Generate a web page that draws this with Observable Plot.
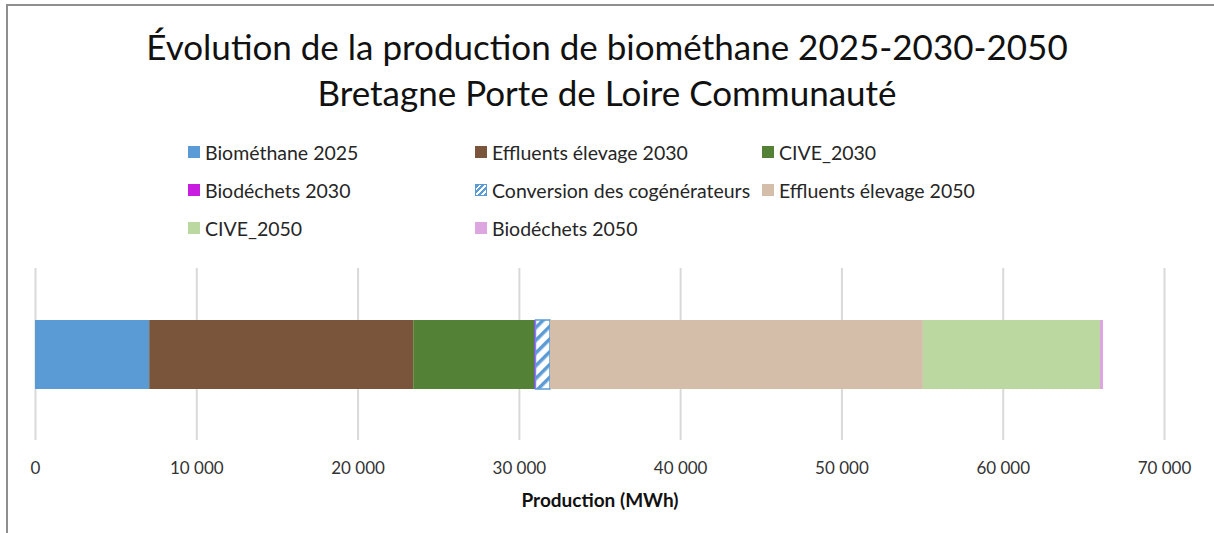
<!DOCTYPE html>
<html>
<head>
<meta charset="utf-8">
<script src="https://cdn.jsdelivr.net/npm/d3@7"></script>
<script src="https://cdn.jsdelivr.net/npm/@observablehq/plot@0.6"></script>
<style>
  html, body { margin: 0; padding: 0; background: #fff; }
  #wrap { position: relative; width: 1214px; height: 533px; overflow: hidden; font-family: Lato, "Open Sans", sans-serif; }
  #frame { position: absolute; left: 6px; top: 4px; width: 1400px; height: 800px; border-left: 2px solid #8f8f8f; border-top: 2px solid #8f8f8f; }
  #title { position: absolute; left: 0; top: 23px; width: 1214px; text-align: center; font-size: 35px; line-height: 46px; color: #111; }
  #legend { position: absolute; left: 188px; top: 141px; display: grid; grid-template-columns: 287px 287px 287px; grid-auto-rows: 38px; font-size: 19.5px; color: #262626; }
  .item { display: flex; align-items: center; height: 22px; white-space: nowrap; }
  .sw { width: 12px; height: 12px; margin-right: 5px; box-sizing: border-box; flex: none; }
  #chart { position: absolute; left: 0; top: 250px; }
  #chart g[aria-label="x-axis label"] text { font-weight: bold; font-size: 19px; fill: #111; }
</style>
</head>
<body>
<svg width="0" height="0" style="position:absolute">
  <defs>
    <pattern id="stripes" patternUnits="userSpaceOnUse" width="9" height="9" patternTransform="rotate(45)">
      <rect width="9" height="9" fill="#ffffff"></rect>
      <rect width="3.5" height="9" fill="#5b9bd5"></rect>
    </pattern>
  </defs>
</svg>
<div id="wrap">
  <div id="frame"></div>
  <div id="title"></div>
  <div id="legend"></div>
  <div id="chart"></div>
</div>
<script>
const titleLines = ["Évolution de la production de biométhane 2025-2030-2050", "Bretagne Porte de Loire Communauté"];
const series = ["Biométhane 2025", "Effluents élevage 2030", "CIVE_2030", "Biodéchets 2030", "Conversion des cogénérateurs", "Effluents élevage 2050", "CIVE_2050", "Biodéchets 2050"];
const values = [7080, 16370, 7490, 90, 900, 23120, 10980, 190];
const colors = ["#5b9bd5", "#7a553b", "#538135", "#c81ce0", "url(#stripes)", "#d4bda9", "#bbd8a1", "#dea6e0"];
const xTicks = [0, 10000, 20000, 30000, 40000, 50000, 60000, 70000];
const xLabel = "Production (MWh)";
const category = "Production";

document.getElementById("title").innerHTML = titleLines.map(t => `<div>${t}</div>`).join("");

const legend = document.getElementById("legend");
series.forEach((s, i) => {
  const it = document.createElement("div");
  it.className = "item";
  const sw = document.createElement("span");
  sw.className = "sw";
  if (colors[i].startsWith("url")) {
    sw.style.background = "repeating-linear-gradient(-45deg, #5b9bd5 0 2px, #fff 2px 4px)";
    sw.style.border = "1.5px solid #5b9bd5";
  } else {
    sw.style.background = colors[i];
  }
  it.appendChild(sw);
  it.appendChild(document.createTextNode(s));
  legend.appendChild(it);
});

const data = series.map((s, i) => ({series: s, value: values[i], cat: category}));
const fmt = d3.formatLocale({decimal: ",", thousands: " ", grouping: [3], currency: ["", " €"]}).format(",d");

const chart = Plot.plot({
  width: 1214,
  height: 283,
  marginLeft: 35,
  marginRight: 50,
  marginTop: 18,
  marginBottom: 93,
  style: {fontFamily: "Lato, 'Open Sans', sans-serif", fontSize: "17px", color: "#333", background: "transparent", overflow: "visible"},
  x: {domain: [0, 70000]},
  y: {domain: [category], padding: 0.427, axis: null},
  color: {domain: series, range: colors},
  marks: [
    Plot.ruleX(xTicks, {stroke: "#d9d9d9", strokeWidth: 2}),
    Plot.barX(data, {
      x: "value",
      y: "cat",
      fill: "series",
      stroke: d => d.series === series[4] ? "#5b9bd5" : "none",
      strokeWidth: 1.5
    }),
    Plot.axisX({ticks: xTicks, tickSize: 0, tickPadding: 21, tickFormat: fmt, label: xLabel, labelAnchor: "center", labelArrow: "none", labelOffset: 66})
  ]
});
document.getElementById("chart").appendChild(chart);
</script>
</body>
</html>
